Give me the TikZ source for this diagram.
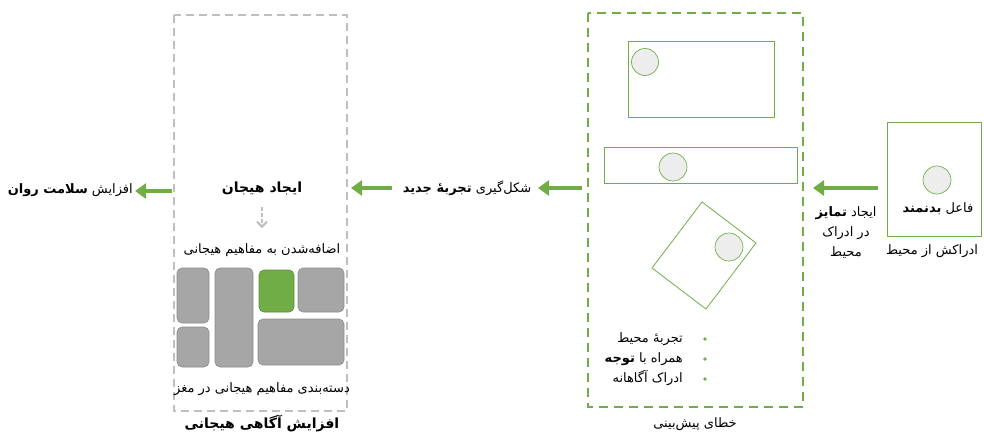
\documentclass[tikz,border=0pt]{standalone}
\usepackage{fontspec}
\usetikzlibrary{arrows.meta}
\TeXXeTstate=1
\newfontfamily\arabicfont[Script=Arabic]{DejaVu Sans}
\definecolor{gr}{HTML}{70AD47}
\definecolor{lgr}{HTML}{BFBFBF}
\definecolor{cellg}{HTML}{A6A6A6}
\definecolor{cellb}{HTML}{8C8C8C}
\definecolor{circf}{HTML}{EDEDED}
\tikzset{
  txt/.style={font=\arabicfont\fontsize{13}{20}\selectfont, inner sep=1pt},
  btxt/.style={font=\arabicfont\bfseries\fontsize{14}{20}\selectfont, inner sep=1pt},
  garrow/.style={draw=gr, line width=4.5pt, -{Triangle[length=11pt,width=15pt]}},
  cell/.style={draw=cellb, fill=cellg, rounded corners=5pt, line width=0.6pt},
  frame/.style={draw=gr, line width=0.8pt},
  dot/.style={draw=gr, fill=circf, line width=0.7pt},
}
\begin{document}
\begin{tikzpicture}[x=1pt,y=-1pt]
\useasboundingbox (0,0) rectangle (984,434);
% left gray dashed box
\draw[lgr, line width=1.5pt, dash pattern=on 8pt off 5pt] (174,15) rectangle (347,411);
\node[btxt] (hij) at (262,188) {\beginR ایجاد هیجان\endR};
\node[txt] (ezaf) at (262,250) {\beginR اضافه‌شدن به مفاهیم هیجانی\endR};
\draw[lgr, line width=2pt, dash pattern=on 4pt off 2pt, -{Straight Barb[length=5pt,width=10pt]}] (262,207) coordinate (da) -- (262,228) coordinate (db);
% cells
\draw[cell] (177,268) rectangle (209,323);
\draw[cell] (177,327) rectangle (209,367);
\draw[cell] (215,268) rectangle (253,367);
\draw[cell, fill=gr, draw=gr!80!black] (259,270) rectangle (294,312);
\draw[cell] (298,268) rectangle (344,312);
\draw[cell] (258,319) rectangle (344,365);
\node[txt] (dast) at (262,389) {\beginR دسته‌بندی مفاهیم هیجانی در مغز\endR};
\node[btxt] (agah) at (262,424) {\beginR افزایش آگاهی هیجانی\endR};
% leftmost text
\node[txt, anchor=east] (salamat) at (134,190) {\beginR افزایش {\bfseries سلامت روان}\endR};
% middle text
\node[txt] (shekl) at (467,188) {\beginR شکل‌گیری {\bfseries تجربهٔ جدید}\endR};
% right green dashed box
\draw[gr, line width=2.5pt, dash pattern=on 9pt off 6pt] (588,13) rectangle (803,407);
\draw[frame] (628,41) rectangle (774,117);
\draw[dot] (645,62) circle (13.5);
\draw[frame] (604,147) rectangle (797,183);
\draw[dot] (673,167) circle (14);
\draw[frame] (702,202) -- (756,243) -- (706,309) -- (652,268) -- cycle;
\draw[dot] (729,247) circle (14);
\node[txt, anchor=east, align=right] (list) at (684,359) {\beginR تجربهٔ محیط\endR\\\beginR همراه با {\bfseries توجه}\endR\\\beginR ادراک آگاهانه\endR};
\foreach \yy in {339,359,379} \fill[gr] (705,\yy) circle (1.9);
\node[txt] (khata) at (695,424) {\beginR خطای پیش‌بینی\endR};
% far right box
\draw[frame] (887,122) rectangle (981,236) ;
\draw[dot] (937,180) circle (14);
\node[txt] (fael) at (938,209) {\beginR فاعل {\bfseries بدنمند}\endR};
\node[txt] (edrak) at (932,251) {\beginR ادراکش از محیط\endR};
\node[txt, align=center] (tamayoz) at (846,233) {\beginR ایجاد {\bfseries تمایز}\endR\\\beginR در ادراک\endR\\\beginR محیط\endR};
% green arrows
\coordinate (a1s) at (172,191); \coordinate (a1e) at (135,191);
\coordinate (a2s) at (392,188); \coordinate (a2e) at (351,188);
\coordinate (a3s) at (582,188); \coordinate (a3e) at (538,188);
\coordinate (a4s) at (878,188); \coordinate (a4e) at (813,188);
\draw[garrow] (a1s) -- (a1e);
\draw[garrow] (a2s) -- (a2e);
\draw[garrow] (a3s) -- (a3e);
\draw[garrow] (a4s) -- (a4e);
\end{tikzpicture}
\end{document}
